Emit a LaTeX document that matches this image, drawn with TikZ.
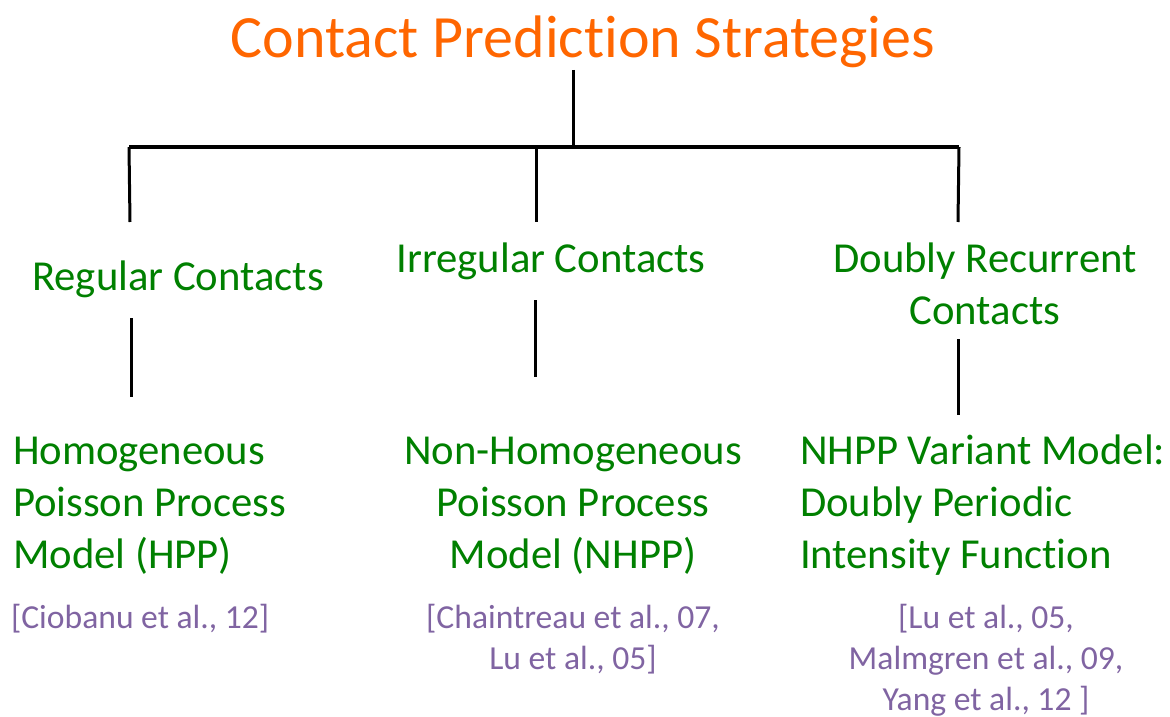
\documentclass[tikz,border=0pt]{standalone}
\usepackage{fontspec}
\setmainfont{Carlito}[Ligatures=NoCommon]
\definecolor{ttlorange}{HTML}{FF6600}
\definecolor{boxgreen}{HTML}{008000}
\definecolor{citepurple}{HTML}{8064A2}
\begin{document}
\begin{tikzpicture}[x=1pt,y=-1pt,
  every node/.style={inner sep=0pt,outer sep=0pt},
  ttl/.style={text=ttlorange,font=\fontsize{60}{72}\selectfont,anchor=base},
  cat/.style={text=boxgreen,font=\fontsize{42.7}{51.7}\selectfont,anchor=base},
  cit/.style={text=citepurple,font=\fontsize{33.6}{41}\selectfont,anchor=base},
  branch/.style={line width=3pt,black},
  bar/.style={line width=4.5pt,black}]
\useasboundingbox (0,0) rectangle (1170,717);
% title
\node[ttl] (title) at (583,58) {Contact Prediction Strategies};
% level 2 (base = baseline of last line)
\node[cat] (reg) at (178,290) {Regular Contacts};
\node[cat] (irr) at (551,272) {Irregular Contacts};
\node[cat,align=center] (dbl) at (985,324) {Doubly Recurrent\\Contacts};
% level 3
\node[cat,align=left,anchor=base west] (hpp) at (13,568) {Homogeneous\\Poisson Process\\Model (HPP)};
\node[cat,align=center] (nhpp) at (573,568) {Non-Homogeneous\\Poisson Process\\Model (NHPP)};
\node[cat,align=left,anchor=base west] (var) at (800,568) {NHPP Variant Model:\\Doubly Periodic\\Intensity Function};
% citations
\node[cit,anchor=base west] (c1) at (11,628) {[Ciobanu et al., 12]};
\node[cit,align=center] (c2) at (573,669) {[Chaintreau et al., 07,\\Lu et al., 05]};
\node[cit,align=center] (c3) at (986,710) {[Lu et al., 05,\\Malmgren et al., 09,\\Yang et al., 12 ]};
% connector points
\coordinate (ttop) at (573,70);
\coordinate (tbar) at (573,147);
\coordinate (barL) at (129,147);
\coordinate (barM) at (536,147);
\coordinate (barR) at (959,147);
\coordinate (regT) at (130,222);
\coordinate (irrT) at (536,222);
\coordinate (dblT) at (958,222);
\coordinate (regB) at (131,318);
\coordinate (hppT) at (131,397);
\coordinate (irrB) at (535,300);
\coordinate (nhppT) at (535,377);
\coordinate (dblB) at (958,339);
\coordinate (varT) at (958,415);
% connectors
\draw[branch] (ttop) -- (tbar);
\draw[bar] (barL) -- (barR);
\draw[branch] (barL) -- (regT);
\draw[branch] (barM) -- (irrT);
\draw[branch] (barR) -- (dblT);
\draw[branch] (regB) -- (hppT);
\draw[branch] (irrB) -- (nhppT);
\draw[branch] (dblB) -- (varT);
\end{tikzpicture}
\end{document}
